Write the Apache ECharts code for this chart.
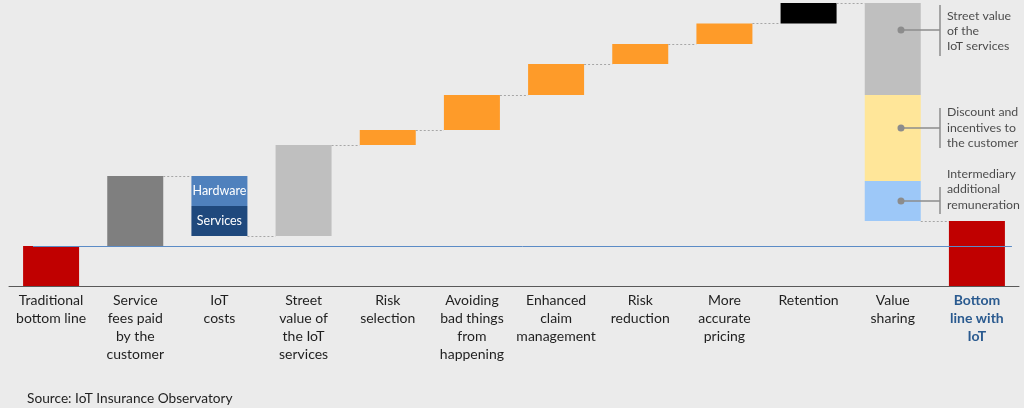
<!DOCTYPE html>
<html>
<head>
<meta charset="utf-8">
<script src="https://cdn.jsdelivr.net/npm/echarts@6/dist/echarts.min.js"></script>
<style>
html,body{margin:0;padding:0;background:#ebebeb;}
#chart{width:1024px;height:408px;}
</style>
</head>
<body>
<div id="chart"></div>
<script>
const categories = ['Traditional\nbottom line', 'Service\nfees paid\nby the\ncustomer', 'IoT\ncosts', 'Street\nvalue of\nthe IoT\nservices', 'Risk\nselection', 'Avoiding\nbad things\nfrom\nhappening', 'Enhanced\nclaim\nmanagement', 'Risk\nreduction', 'More\naccurate\npricing', 'Retention', 'Value\nsharing', 'Bottom\nline with\nIoT'];
const baseValues    = [0, 40, 50, 50, 141, 156, 191, 222, 242, 262.5, 65, 0];
const lowerSegment  = [40, 70, 30, 91, 15, 35, 31, 20, 20.5, 20.5, 40, 65];
const middleSegment = ['-', '-', 30, '-', '-', '-', '-', '-', '-', '-', 86, '-'];
const upperSegment  = ['-', '-', '-', '-', '-', '-', '-', '-', '-', '-', 92, '-'];
const lowerLabels   = ['', '', 'Services', '', '', '', '', '', '', '', '', ''];
const middleLabels  = ['', '', 'Hardware', '', '', '', '', '', '', '', '', ''];
const connectorLevels = [null, 110, 50, 141, 156, 191, 222, 242, 262.5, 283, 65];
const traditionalLevel = 40;
const annotationTexts = ['Street value\nof the\nIoT services', 'Discount and\nincentives to\nthe customer', 'Intermediary\nadditional\nremuneration'];
const annotationDotLevels = [256, 158, 85];
const annotationBrackets = [[281, 230], [178, 138], [99, 72]];
const annotationTextLevels = [255, 158.3, 96.5];

const lowerColors = ['#c00000', '#7f7f7f', '#1f497d', '#bfbfbf', '#fe9b29', '#fe9b29', '#fe9b29', '#fe9b29', '#fe9b29', '#000000', '#9dc8f8', '#c00000'];
const middleColors = {2: '#4f81bd', 10: '#ffe699'};
const upperColor = '#bfbfbf';

const FONT = 'Lato';
const halfBar = 28 / ((1019 - 9) / 12);

const connectorLines = [];
connectorLevels.forEach((lv, i) => {
  if (lv === null) return;
  connectorLines.push([{coord: [i + halfBar, lv]}, {coord: [i + 1 - halfBar, lv]}]);
});

const annotationLines = [];
annotationDotLevels.forEach((lv, k) => {
  annotationLines.push([{coord: [10.098, lv], symbol: 'circle', symbolSize: 7}, {coord: [10.561, lv], symbol: 'none'}]);
  annotationLines.push([{coord: [10.561, annotationBrackets[k][0]], symbol: 'none'}, {coord: [10.561, annotationBrackets[k][1]], symbol: 'none'}]);
});

const chart = echarts.init(document.getElementById('chart'));
chart.setOption({
  backgroundColor: '#ebebeb',
  animation: false,
  textStyle: {fontFamily: FONT},
  title: {
    text: 'Source: IoT Insurance Observatory',
    left: 22, top: 387,
    textStyle: {fontFamily: FONT, fontSize: 13.7, fontWeight: 'normal', color: '#1f1f1f'}
  },
  grid: {left: 9, right: 5, top: 0, bottom: 122},
  xAxis: [{
    type: 'category',
    data: categories.map((c, i) => i === categories.length - 1 ? {value: c, textStyle: {fontWeight: 'bold', color: '#2a5a8f'}} : c),
    axisTick: {show: false},
    axisLine: {lineStyle: {color: '#595959', width: 1}},
    axisLabel: {interval: 0, fontSize: 14, lineHeight: 17.8, margin: 6, color: '#1f1f1f', fontFamily: FONT}
  }, {
    type: 'value', min: -0.5, max: 11.5, show: false
  }],
  yAxis: {type: 'value', min: 0, max: 286, show: false, splitLine: {show: false}},
  series: [{
    type: 'bar', stack: 'w', data: baseValues, barWidth: 56,
    itemStyle: {color: 'transparent'}, silent: true
  }, {
    type: 'bar', stack: 'w', barWidth: 56,
    data: lowerSegment.map((v, i) => ({value: v, itemStyle: {color: lowerColors[i]}})),
    label: {show: true, position: 'inside', color: '#ffffff', fontSize: 12.5, fontFamily: FONT,
      formatter: p => lowerLabels[p.dataIndex]}
  }, {
    type: 'bar', stack: 'w', barWidth: 56,
    data: middleSegment.map((v, i) => ({value: v, itemStyle: {color: middleColors[i] || '#ccc'}})),
    label: {show: true, position: 'inside', color: '#ffffff', fontSize: 12.5, fontFamily: FONT,
      formatter: p => middleLabels[p.dataIndex]}
  }, {
    type: 'bar', stack: 'w', barWidth: 56,
    data: upperSegment,
    itemStyle: {color: upperColor}
  }, {
    type: 'line', xAxisIndex: 1, data: [], z: 5,
    markLine: {
      silent: true, symbol: ['none', 'none'],
      label: {show: false},
      lineStyle: {color: '#a6a6a6', type: [2, 2], width: 1},
      data: connectorLines
    }
  }, {
    type: 'line', xAxisIndex: 1, data: [], z: 6,
    markLine: {
      silent: true, symbol: ['none', 'none'],
      label: {show: false},
      lineStyle: {color: '#5b8bc6', type: 'solid', width: 1},
      data: [[{coord: [-0.215, traditionalLevel]}, {coord: [11.416, traditionalLevel]}]]
    }
  }, {
    type: 'scatter', xAxisIndex: 1, symbolSize: 0, z: 7,
    data: annotationTexts.map((t, k) => [10.644, annotationTextLevels[k], t]),
    label: {show: true, position: 'right', distance: 0, align: 'left', verticalAlign: 'middle',
      fontSize: 12.3, lineHeight: 15.3, color: '#1f1f1f', fontFamily: FONT,
      formatter: p => p.data[2]},
    markLine: {
      silent: true, symbol: ['none', 'none'],
      label: {show: false},
      lineStyle: {color: '#8c8c8c', type: 'solid', width: 1.5},
      itemStyle: {color: '#7f7f7f'},
      data: annotationLines
    }
  }]
});
</script>
</body>
</html>
